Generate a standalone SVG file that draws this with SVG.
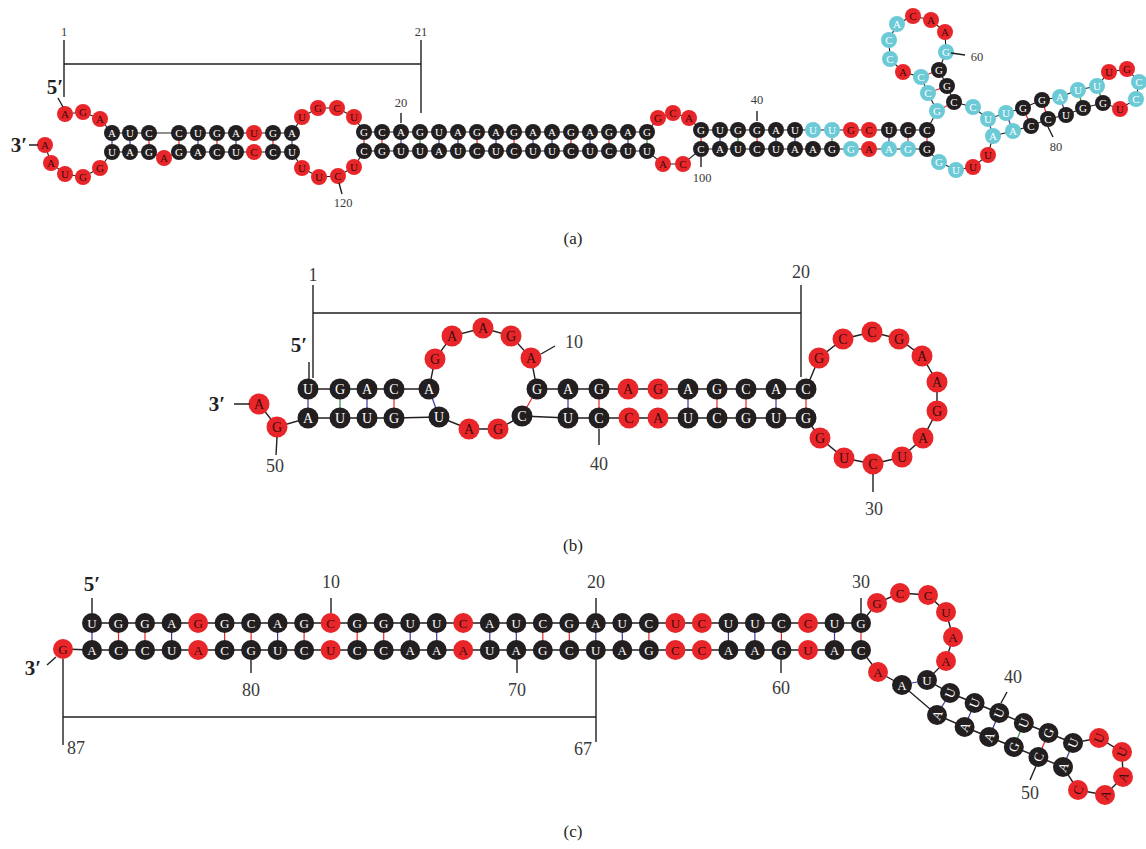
<svg xmlns="http://www.w3.org/2000/svg" width="1146" height="849" viewBox="0 0 1146 849">
<style>
.bg{fill:#fff}
.k circle{fill:#231f20}.k text{fill:#fff}
.r circle{fill:#e8262a}.r text{fill:#3a0c0c}
.c circle{fill:#6ccad7}.c text{fill:#fff}
.k text,.r text,.c text{font-family:"Liberation Serif",serif;text-anchor:middle;dominant-baseline:central}
#pa .k text,#pa .r text,#pa .c text{font-size:11px}
#pb .k text,#pb .r text,#pb .c text{font-size:14px}
#pc .k text,#pc .r text,#pc .c text{font-size:13px}
.bb{fill:none;stroke:#231f20;stroke-width:1.1}
.bb2{fill:none;stroke:#231f20;stroke-width:1.4}
.pr{stroke:#e8262a;stroke-width:1.2}
.pu{stroke:#3b3b9e;stroke-width:1.2}
.pg{stroke:#2f8a3c;stroke-width:1.2}
.ln{fill:none;stroke:#231f20;stroke-width:1.4}
.lb{font-family:"Liberation Serif",serif;fill:#3a3a3a;text-anchor:middle;dominant-baseline:central}
.s12{font-size:12.5px}.s18{font-size:18px}
.end{font-family:"Liberation Serif",serif;font-weight:bold;fill:#231f20;font-size:21px;text-anchor:middle;dominant-baseline:central}
.cap{font-family:"Liberation Serif",serif;fill:#231f20;font-size:17px;text-anchor:middle;dominant-baseline:central}
</style>
<rect class="bg" x="0" y="0" width="1146" height="849"/>

<g id="connectors">
<!-- panel a backbone -->
<polyline class="bb" points="65,114 83,112 100,119 112,133 130,133 149,133 179,133 198,133 217,133 236,133 254,133 273,133 292,133 302,117 318,108 337,108 354,117 364,132 382,132 401,132 420,132 439,132 458,132 477,132 496,132 514,132 533,132 552,132 571,132 590,132 609,132 628,132 647,132 658,118 673,113 689,118 701,130 720,130 738,130 757,130 776,130 795,130 813,130 832,130 851,130 869,130 889,130 908,130 927,130 937,111 928,93 921,77 903,72 890,59 889,40 897,24 913,16 931,20 945,32 946,52 939,70 947,86 954,102 973,107 988,119 1006,113 1023,108 1042,100 1060,97 1078,90 1097,86 1109,72 1127,69 1139,82 1136,99 1120,109 1103,103 1083,108 1066,115 1048,119 1031,126 1013,131 993,136 988,155 973,167 956,170 939,162 927,149 908,149 889,149 869,149 851,149 832,149 813,149 795,149 776,149 757,149 738,149 720,149 701,149 683,164 663,164 647,151 628,151 609,151 590,151 571,151 552,151 533,151 514,151 496,151 477,151 458,151 439,151 420,151 401,151 382,151 364,151 354,167 338,176 319,177 302,168 292,152 273,152 254,152 236,152 217,152 198,152 179,152 164,158 149,152 130,152 112,152 100,168 83,177 65,174 51,163 45,145"/>
<!-- panel a pairs -->
<g class="pu"><line x1="112" y1="133" x2="112" y2="152"/><line x1="130" y1="133" x2="130" y2="152"/><line x1="198" y1="133" x2="198" y2="152"/><line x1="236" y1="133" x2="236" y2="152"/><line x1="292" y1="133" x2="292" y2="152"/><line x1="401" y1="132" x2="401" y2="151"/><line x1="439" y1="132" x2="439" y2="151"/><line x1="458" y1="132" x2="458" y2="151"/><line x1="496" y1="132" x2="496" y2="151"/><line x1="533" y1="132" x2="533" y2="151"/><line x1="552" y1="132" x2="552" y2="151"/><line x1="590" y1="132" x2="590" y2="151"/><line x1="628" y1="132" x2="628" y2="151"/><line x1="720" y1="130" x2="720" y2="149"/><line x1="776" y1="130" x2="776" y2="149"/><line x1="795" y1="130" x2="795" y2="149"/><line x1="889" y1="130" x2="889" y2="149"/><line x1="988" y1="119" x2="993" y2="136"/><line x1="1006" y1="113" x2="1013" y2="131"/><line x1="1060" y1="97" x2="1066" y2="115"/></g>
<g class="pr"><line x1="149" y1="133" x2="149" y2="152"/><line x1="179" y1="133" x2="179" y2="152"/><line x1="217" y1="133" x2="217" y2="152"/><line x1="273" y1="133" x2="273" y2="152"/><line x1="364" y1="132" x2="364" y2="151"/><line x1="382" y1="132" x2="382" y2="151"/><line x1="477" y1="132" x2="477" y2="151"/><line x1="514" y1="132" x2="514" y2="151"/><line x1="571" y1="132" x2="571" y2="151"/><line x1="609" y1="132" x2="609" y2="151"/><line x1="701" y1="130" x2="701" y2="149"/><line x1="757" y1="130" x2="757" y2="149"/><line x1="908" y1="130" x2="908" y2="149"/><line x1="927" y1="130" x2="927" y2="149"/><line x1="937" y1="111" x2="954" y2="102"/><line x1="928" y1="93" x2="947" y2="86"/><line x1="921" y1="77" x2="939" y2="70"/><line x1="1023" y1="108" x2="1031" y2="126"/><line x1="1042" y1="100" x2="1048" y2="119"/></g>
<g class="pg"><line x1="420" y1="132" x2="420" y2="151"/><line x1="647" y1="132" x2="647" y2="151"/><line x1="738" y1="130" x2="738" y2="149"/><line x1="832" y1="130" x2="832" y2="149"/><line x1="1078" y1="90" x2="1083" y2="108"/><line x1="1097" y1="86" x2="1103" y2="103"/></g>

<!-- panel b backbone -->
<polyline class="bb2" points="308,389 340,389 367,389 394,389 429,389 435,359 452,336 483,328 511,336 531,358 537,389 568,389 599,389 628,389 658,389 688,389 717,389 746,389 776,389 806,389 819,358 843,339 872,332 899,339 922,356 937,382 937,411 923,438 902,457 873,464 844,458 820,438 806,418 776,418 746,418 717,418 688,418 658,418 629,418 599,418 568,418 522,416 498,429 469,429 439,417 394,418 367,418 340,418 308,418 277,427 259,404"/>
<g class="pu"><line x1="308" y1="389" x2="308" y2="418"/><line x1="367" y1="389" x2="367" y2="418"/><line x1="429" y1="389" x2="439" y2="417"/><line x1="568" y1="389" x2="568" y2="418"/><line x1="688" y1="389" x2="688" y2="418"/><line x1="776" y1="389" x2="776" y2="418"/></g>
<g class="pg"><line x1="340" y1="389" x2="340" y2="418"/></g>
<g class="pr"><line x1="394" y1="389" x2="394" y2="418"/><line x1="537" y1="389" x2="522" y2="416"/><line x1="599" y1="389" x2="599" y2="418"/><line x1="717" y1="389" x2="717" y2="418"/><line x1="746" y1="389" x2="746" y2="418"/><line x1="806" y1="389" x2="806" y2="418"/></g>

<!-- panel c backbone -->
<polyline class="bb2" points="92,623 118.5,623 145,623 171.6,623 198.1,623 224.6,623 251.1,623 277.6,623 304.1,623 330.7,623 357.2,623 383.7,623 410.2,623 436.7,623 463.2,623 489.8,623 516.3,623 542.8,623 569.3,623 595.8,623 622.3,623 648.9,623 675.4,623 701.9,623 728.4,623 754.9,623 781.4,623 808,623 834.5,623 861,623 877,603 900,593 928,595 946,612 953,637 946,661 927,680 950,693 974.6,703 999.2,713 1023.8,723 1048.4,733 1073,743 1099,738 1122,752 1123,777 1105,795 1078,790 1063,767 1038.4,757 1013.8,747 989.2,737 964.6,727 937,715 902,685 878,672 861,650 834.5,650 808,650 781.4,650 754.9,650 728.4,650 701.9,650 675.4,650 648.9,650 622.3,650 595.8,650 569.3,650 542.8,650 516.3,650 489.8,650 463.2,650 436.7,650 410.2,650 383.7,650 357.2,650 330.7,650 304.1,650 277.6,650 251.1,650 224.6,650 198.1,650 171.6,650 145,650 118.5,650 92,650 63,649"/>
<g class="pu"><line x1="92" y1="623" x2="92" y2="650"/><line x1="171.6" y1="623" x2="171.6" y2="650"/><line x1="277.6" y1="623" x2="277.6" y2="650"/><line x1="410.2" y1="623" x2="410.2" y2="650"/><line x1="436.7" y1="623" x2="436.7" y2="650"/><line x1="489.8" y1="623" x2="489.8" y2="650"/><line x1="516.3" y1="623" x2="516.3" y2="650"/><line x1="595.8" y1="623" x2="595.8" y2="650"/><line x1="622.3" y1="623" x2="622.3" y2="650"/><line x1="728.4" y1="623" x2="728.4" y2="650"/><line x1="754.9" y1="623" x2="754.9" y2="650"/><line x1="834.5" y1="623" x2="834.5" y2="650"/><line x1="927" y1="680" x2="902" y2="685"/><line x1="950" y1="693" x2="937" y2="715"/><line x1="974.6" y1="703" x2="964.6" y2="727"/><line x1="999.2" y1="713" x2="989.2" y2="737"/><line x1="1073" y1="743" x2="1063" y2="767"/></g>
<g class="pr"><line x1="118.5" y1="623" x2="118.5" y2="650"/><line x1="145" y1="623" x2="145" y2="650"/><line x1="224.6" y1="623" x2="224.6" y2="650"/><line x1="251.1" y1="623" x2="251.1" y2="650"/><line x1="304.1" y1="623" x2="304.1" y2="650"/><line x1="357.2" y1="623" x2="357.2" y2="650"/><line x1="383.7" y1="623" x2="383.7" y2="650"/><line x1="542.8" y1="623" x2="542.8" y2="650"/><line x1="569.3" y1="623" x2="569.3" y2="650"/><line x1="648.9" y1="623" x2="648.9" y2="650"/><line x1="781.4" y1="623" x2="781.4" y2="650"/><line x1="861" y1="623" x2="861" y2="650"/><line x1="1048.4" y1="733" x2="1038.4" y2="757"/></g>
<g class="pg"><line x1="1023.8" y1="723" x2="1013.8" y2="747"/></g>
</g>

<g id="pa">
<g id="a1" class="r" transform="translate(65,114)"><circle r="8"/><text>A</text></g>
<g id="a2" class="r" transform="translate(83,112)"><circle r="8"/><text>G</text></g>
<g id="a3" class="r" transform="translate(100,119)"><circle r="8"/><text>A</text></g>
<g id="a4" class="k" transform="translate(112,133)"><circle r="8"/><text>A</text></g>
<g id="a5" class="k" transform="translate(130,133)"><circle r="8"/><text>U</text></g>
<g id="a6" class="k" transform="translate(149,133)"><circle r="8"/><text>C</text></g>
<g id="a7" class="k" transform="translate(179,133)"><circle r="8"/><text>C</text></g>
<g id="a8" class="k" transform="translate(198,133)"><circle r="8"/><text>U</text></g>
<g id="a9" class="k" transform="translate(217,133)"><circle r="8"/><text>G</text></g>
<g id="a10" class="k" transform="translate(236,133)"><circle r="8"/><text>A</text></g>
<g id="a11" class="r" transform="translate(254,133)"><circle r="8"/><text>U</text></g>
<g id="a12" class="k" transform="translate(273,133)"><circle r="8"/><text>G</text></g>
<g id="a13" class="k" transform="translate(292,133)"><circle r="8"/><text>A</text></g>
<g id="a14" class="r" transform="translate(302,117)"><circle r="8"/><text>U</text></g>
<g id="a15" class="r" transform="translate(318,108)"><circle r="8"/><text>G</text></g>
<g id="a16" class="r" transform="translate(337,108)"><circle r="8"/><text>C</text></g>
<g id="a17" class="r" transform="translate(354,117)"><circle r="8"/><text>U</text></g>
<g id="a18" class="k" transform="translate(364,132)"><circle r="8"/><text>G</text></g>
<g id="a19" class="k" transform="translate(382,132)"><circle r="8"/><text>C</text></g>
<g id="a20" class="k" transform="translate(401,132)"><circle r="8"/><text>A</text></g>
<g id="a21" class="k" transform="translate(420,132)"><circle r="8"/><text>G</text></g>
<g id="a22" class="k" transform="translate(439,132)"><circle r="8"/><text>U</text></g>
<g id="a23" class="k" transform="translate(458,132)"><circle r="8"/><text>A</text></g>
<g id="a24" class="k" transform="translate(477,132)"><circle r="8"/><text>G</text></g>
<g id="a25" class="k" transform="translate(496,132)"><circle r="8"/><text>A</text></g>
<g id="a26" class="k" transform="translate(514,132)"><circle r="8"/><text>G</text></g>
<g id="a27" class="k" transform="translate(533,132)"><circle r="8"/><text>A</text></g>
<g id="a28" class="k" transform="translate(552,132)"><circle r="8"/><text>A</text></g>
<g id="a29" class="k" transform="translate(571,132)"><circle r="8"/><text>G</text></g>
<g id="a30" class="k" transform="translate(590,132)"><circle r="8"/><text>A</text></g>
<g id="a31" class="k" transform="translate(609,132)"><circle r="8"/><text>G</text></g>
<g id="a32" class="k" transform="translate(628,132)"><circle r="8"/><text>A</text></g>
<g id="a33" class="k" transform="translate(647,132)"><circle r="8"/><text>G</text></g>
<g id="a34" class="r" transform="translate(658,118)"><circle r="8"/><text>G</text></g>
<g id="a35" class="r" transform="translate(673,113)"><circle r="8"/><text>C</text></g>
<g id="a36" class="r" transform="translate(689,118)"><circle r="8"/><text>A</text></g>
<g id="a37" class="k" transform="translate(701,130)"><circle r="8"/><text>G</text></g>
<g id="a38" class="k" transform="translate(720,130)"><circle r="8"/><text>U</text></g>
<g id="a39" class="k" transform="translate(738,130)"><circle r="8"/><text>G</text></g>
<g id="a40" class="k" transform="translate(757,130)"><circle r="8"/><text>G</text></g>
<g id="a41" class="k" transform="translate(776,130)"><circle r="8"/><text>A</text></g>
<g id="a42" class="k" transform="translate(795,130)"><circle r="8"/><text>U</text></g>
<g id="a43" class="c" transform="translate(813,130)"><circle r="8"/><text>U</text></g>
<g id="a44" class="c" transform="translate(832,130)"><circle r="8"/><text>U</text></g>
<g id="a45" class="r" transform="translate(851,130)"><circle r="8"/><text>G</text></g>
<g id="a46" class="r" transform="translate(869,130)"><circle r="8"/><text>C</text></g>
<g id="a47" class="k" transform="translate(889,130)"><circle r="8"/><text>U</text></g>
<g id="a48" class="k" transform="translate(908,130)"><circle r="8"/><text>C</text></g>
<g id="a49" class="k" transform="translate(927,130)"><circle r="8"/><text>C</text></g>
<g id="a50" class="c" transform="translate(937,111)"><circle r="8"/><text>G</text></g>
<g id="a51" class="c" transform="translate(928,93)"><circle r="8"/><text>C</text></g>
<g id="a52" class="c" transform="translate(921,77)"><circle r="8"/><text>C</text></g>
<g id="a53" class="r" transform="translate(903,72)"><circle r="8"/><text>A</text></g>
<g id="a54" class="c" transform="translate(890,59)"><circle r="8"/><text>C</text></g>
<g id="a55" class="c" transform="translate(889,40)"><circle r="8"/><text>C</text></g>
<g id="a56" class="c" transform="translate(897,24)"><circle r="8"/><text>A</text></g>
<g id="a57" class="r" transform="translate(913,16)"><circle r="8"/><text>C</text></g>
<g id="a58" class="r" transform="translate(931,20)"><circle r="8"/><text>A</text></g>
<g id="a59" class="r" transform="translate(945,32)"><circle r="8"/><text>A</text></g>
<g id="a60" class="c" transform="translate(946,52)"><circle r="8"/><text>G</text></g>
<g id="a61" class="k" transform="translate(939,70)"><circle r="8"/><text>G</text></g>
<g id="a62" class="k" transform="translate(947,86)"><circle r="8"/><text>G</text></g>
<g id="a63" class="k" transform="translate(954,102)"><circle r="8"/><text>C</text></g>
<g id="a64" class="c" transform="translate(973,107)"><circle r="8"/><text>C</text></g>
<g id="a65" class="c" transform="translate(988,119)"><circle r="8"/><text>U</text></g>
<g id="a66" class="c" transform="translate(1006,113)"><circle r="8"/><text>U</text></g>
<g id="a67" class="k" transform="translate(1023,108)"><circle r="8"/><text>G</text></g>
<g id="a68" class="k" transform="translate(1042,100)"><circle r="8"/><text>G</text></g>
<g id="a69" class="c" transform="translate(1060,97)"><circle r="8"/><text>A</text></g>
<g id="a70" class="c" transform="translate(1078,90)"><circle r="8"/><text>U</text></g>
<g id="a71" class="c" transform="translate(1097,86)"><circle r="8"/><text>U</text></g>
<g id="a72" class="r" transform="translate(1109,72)"><circle r="8"/><text>U</text></g>
<g id="a73" class="r" transform="translate(1127,69)"><circle r="8"/><text>G</text></g>
<g id="a74" class="c" transform="translate(1139,82)"><circle r="8"/><text>C</text></g>
<g id="a75" class="c" transform="translate(1136,99)"><circle r="8"/><text>C</text></g>
<g id="a76" class="r" transform="translate(1120,109)"><circle r="8"/><text>U</text></g>
<g id="a77" class="k" transform="translate(1103,103)"><circle r="8"/><text>G</text></g>
<g id="a78" class="k" transform="translate(1083,108)"><circle r="8"/><text>G</text></g>
<g id="a79" class="k" transform="translate(1066,115)"><circle r="8"/><text>U</text></g>
<g id="a80" class="k" transform="translate(1048,119)"><circle r="8"/><text>C</text></g>
<g id="a81" class="k" transform="translate(1031,126)"><circle r="8"/><text>C</text></g>
<g id="a82" class="c" transform="translate(1013,131)"><circle r="8"/><text>A</text></g>
<g id="a83" class="c" transform="translate(993,136)"><circle r="8"/><text>A</text></g>
<g id="a84" class="r" transform="translate(988,155)"><circle r="8"/><text>U</text></g>
<g id="a85" class="r" transform="translate(973,167)"><circle r="8"/><text>U</text></g>
<g id="a86" class="c" transform="translate(956,170)"><circle r="8"/><text>U</text></g>
<g id="a87" class="c" transform="translate(939,162)"><circle r="8"/><text>G</text></g>
<g id="a88" class="k" transform="translate(927,149)"><circle r="8"/><text>G</text></g>
<g id="a89" class="c" transform="translate(908,149)"><circle r="8"/><text>G</text></g>
<g id="a90" class="c" transform="translate(889,149)"><circle r="8"/><text>A</text></g>
<g id="a91" class="r" transform="translate(869,149)"><circle r="8"/><text>A</text></g>
<g id="a92" class="c" transform="translate(851,149)"><circle r="8"/><text>G</text></g>
<g id="a93" class="k" transform="translate(832,149)"><circle r="8"/><text>G</text></g>
<g id="a94" class="k" transform="translate(813,149)"><circle r="8"/><text>A</text></g>
<g id="a95" class="k" transform="translate(795,149)"><circle r="8"/><text>A</text></g>
<g id="a96" class="k" transform="translate(776,149)"><circle r="8"/><text>U</text></g>
<g id="a97" class="k" transform="translate(757,149)"><circle r="8"/><text>C</text></g>
<g id="a98" class="k" transform="translate(738,149)"><circle r="8"/><text>U</text></g>
<g id="a99" class="k" transform="translate(720,149)"><circle r="8"/><text>A</text></g>
<g id="a100" class="k" transform="translate(701,149)"><circle r="8"/><text>C</text></g>
<g id="a101" class="r" transform="translate(683,164)"><circle r="8"/><text>C</text></g>
<g id="a102" class="r" transform="translate(663,164)"><circle r="8"/><text>A</text></g>
<g id="a103" class="k" transform="translate(647,151)"><circle r="8"/><text>U</text></g>
<g id="a104" class="k" transform="translate(628,151)"><circle r="8"/><text>U</text></g>
<g id="a105" class="k" transform="translate(609,151)"><circle r="8"/><text>C</text></g>
<g id="a106" class="k" transform="translate(590,151)"><circle r="8"/><text>U</text></g>
<g id="a107" class="k" transform="translate(571,151)"><circle r="8"/><text>C</text></g>
<g id="a108" class="k" transform="translate(552,151)"><circle r="8"/><text>U</text></g>
<g id="a109" class="k" transform="translate(533,151)"><circle r="8"/><text>U</text></g>
<g id="a110" class="k" transform="translate(514,151)"><circle r="8"/><text>C</text></g>
<g id="a111" class="k" transform="translate(496,151)"><circle r="8"/><text>U</text></g>
<g id="a112" class="k" transform="translate(477,151)"><circle r="8"/><text>C</text></g>
<g id="a113" class="k" transform="translate(458,151)"><circle r="8"/><text>U</text></g>
<g id="a114" class="k" transform="translate(439,151)"><circle r="8"/><text>A</text></g>
<g id="a115" class="k" transform="translate(420,151)"><circle r="8"/><text>U</text></g>
<g id="a116" class="k" transform="translate(401,151)"><circle r="8"/><text>U</text></g>
<g id="a117" class="k" transform="translate(382,151)"><circle r="8"/><text>G</text></g>
<g id="a118" class="k" transform="translate(364,151)"><circle r="8"/><text>C</text></g>
<g id="a119" class="r" transform="translate(354,167)"><circle r="8"/><text>U</text></g>
<g id="a120" class="r" transform="translate(338,176)"><circle r="8"/><text>C</text></g>
<g id="a121" class="r" transform="translate(319,177)"><circle r="8"/><text>U</text></g>
<g id="a122" class="r" transform="translate(302,168)"><circle r="8"/><text>U</text></g>
<g id="a123" class="k" transform="translate(292,152)"><circle r="8"/><text>U</text></g>
<g id="a124" class="k" transform="translate(273,152)"><circle r="8"/><text>C</text></g>
<g id="a125" class="r" transform="translate(254,152)"><circle r="8"/><text>C</text></g>
<g id="a126" class="k" transform="translate(236,152)"><circle r="8"/><text>U</text></g>
<g id="a127" class="k" transform="translate(217,152)"><circle r="8"/><text>C</text></g>
<g id="a128" class="k" transform="translate(198,152)"><circle r="8"/><text>A</text></g>
<g id="a129" class="k" transform="translate(179,152)"><circle r="8"/><text>G</text></g>
<g id="a130" class="r" transform="translate(164,158)"><circle r="8"/><text>A</text></g>
<g id="a131" class="k" transform="translate(149,152)"><circle r="8"/><text>G</text></g>
<g id="a132" class="k" transform="translate(130,152)"><circle r="8"/><text>A</text></g>
<g id="a133" class="k" transform="translate(112,152)"><circle r="8"/><text>U</text></g>
<g id="a134" class="r" transform="translate(100,168)"><circle r="8"/><text>G</text></g>
<g id="a135" class="r" transform="translate(83,177)"><circle r="8"/><text>G</text></g>
<g id="a136" class="r" transform="translate(65,174)"><circle r="8"/><text>U</text></g>
<g id="a137" class="r" transform="translate(51,163)"><circle r="8"/><text>A</text></g>
<g id="a138" class="r" transform="translate(45,145)"><circle r="8"/><text>A</text></g>
</g>

<g id="pb">
<g id="b1" class="k" transform="translate(308,389)"><circle r="10.5"/><text>U</text></g>
<g id="b2" class="k" transform="translate(340,389)"><circle r="10.5"/><text>G</text></g>
<g id="b3" class="k" transform="translate(367,389)"><circle r="10.5"/><text>A</text></g>
<g id="b4" class="k" transform="translate(394,389)"><circle r="10.5"/><text>C</text></g>
<g id="b5" class="k" transform="translate(429,389)"><circle r="10.5"/><text>A</text></g>
<g id="b6" class="r" transform="translate(435,359)"><circle r="10.5"/><text>G</text></g>
<g id="b7" class="r" transform="translate(452,336)"><circle r="10.5"/><text>A</text></g>
<g id="b8" class="r" transform="translate(483,328)"><circle r="10.5"/><text>A</text></g>
<g id="b9" class="r" transform="translate(511,336)"><circle r="10.5"/><text>G</text></g>
<g id="b10" class="r" transform="translate(531,358)"><circle r="10.5"/><text>A</text></g>
<g id="b11" class="k" transform="translate(537,389)"><circle r="10.5"/><text>G</text></g>
<g id="b12" class="k" transform="translate(568,389)"><circle r="10.5"/><text>A</text></g>
<g id="b13" class="k" transform="translate(599,389)"><circle r="10.5"/><text>G</text></g>
<g id="b14" class="r" transform="translate(628,389)"><circle r="10.5"/><text>A</text></g>
<g id="b15" class="r" transform="translate(658,389)"><circle r="10.5"/><text>G</text></g>
<g id="b16" class="k" transform="translate(688,389)"><circle r="10.5"/><text>A</text></g>
<g id="b17" class="k" transform="translate(717,389)"><circle r="10.5"/><text>G</text></g>
<g id="b18" class="k" transform="translate(746,389)"><circle r="10.5"/><text>C</text></g>
<g id="b19" class="k" transform="translate(776,389)"><circle r="10.5"/><text>A</text></g>
<g id="b20" class="k" transform="translate(806,389)"><circle r="10.5"/><text>C</text></g>
<g id="b21" class="r" transform="translate(819,358)"><circle r="10.5"/><text>G</text></g>
<g id="b22" class="r" transform="translate(843,339)"><circle r="10.5"/><text>C</text></g>
<g id="b23" class="r" transform="translate(872,332)"><circle r="10.5"/><text>C</text></g>
<g id="b24" class="r" transform="translate(899,339)"><circle r="10.5"/><text>G</text></g>
<g id="b25" class="r" transform="translate(922,356)"><circle r="10.5"/><text>A</text></g>
<g id="b26" class="r" transform="translate(937,382)"><circle r="10.5"/><text>A</text></g>
<g id="b27" class="r" transform="translate(937,411)"><circle r="10.5"/><text>G</text></g>
<g id="b28" class="r" transform="translate(923,438)"><circle r="10.5"/><text>A</text></g>
<g id="b29" class="r" transform="translate(902,457)"><circle r="10.5"/><text>U</text></g>
<g id="b30" class="r" transform="translate(873,464)"><circle r="10.5"/><text>C</text></g>
<g id="b31" class="r" transform="translate(844,458)"><circle r="10.5"/><text>U</text></g>
<g id="b32" class="r" transform="translate(820,438)"><circle r="10.5"/><text>G</text></g>
<g id="b33" class="k" transform="translate(806,418)"><circle r="10.5"/><text>G</text></g>
<g id="b34" class="k" transform="translate(776,418)"><circle r="10.5"/><text>U</text></g>
<g id="b35" class="k" transform="translate(746,418)"><circle r="10.5"/><text>G</text></g>
<g id="b36" class="k" transform="translate(717,418)"><circle r="10.5"/><text>C</text></g>
<g id="b37" class="k" transform="translate(688,418)"><circle r="10.5"/><text>U</text></g>
<g id="b38" class="r" transform="translate(658,418)"><circle r="10.5"/><text>A</text></g>
<g id="b39" class="r" transform="translate(629,418)"><circle r="10.5"/><text>C</text></g>
<g id="b40" class="k" transform="translate(599,418)"><circle r="10.5"/><text>C</text></g>
<g id="b41" class="k" transform="translate(568,418)"><circle r="10.5"/><text>U</text></g>
<g id="b42" class="k" transform="translate(522,416)"><circle r="10.5"/><text>C</text></g>
<g id="b43" class="r" transform="translate(498,429)"><circle r="10.5"/><text>G</text></g>
<g id="b44" class="r" transform="translate(469,429)"><circle r="10.5"/><text>A</text></g>
<g id="b45" class="k" transform="translate(439,417)"><circle r="10.5"/><text>U</text></g>
<g id="b46" class="k" transform="translate(394,418)"><circle r="10.5"/><text>G</text></g>
<g id="b47" class="k" transform="translate(367,418)"><circle r="10.5"/><text>U</text></g>
<g id="b48" class="k" transform="translate(340,418)"><circle r="10.5"/><text>U</text></g>
<g id="b49" class="k" transform="translate(308,418)"><circle r="10.5"/><text>A</text></g>
<g id="b50" class="r" transform="translate(277,427)"><circle r="10.5"/><text>G</text></g>
<g id="b51" class="r" transform="translate(259,404)"><circle r="10.5"/><text>A</text></g>
</g>

<g id="pc">
<g id="c1" class="k" transform="translate(92,623)"><circle r="10"/><text>U</text></g>
<g id="c2" class="k" transform="translate(118.5,623)"><circle r="10"/><text>G</text></g>
<g id="c3" class="k" transform="translate(145,623)"><circle r="10"/><text>G</text></g>
<g id="c4" class="k" transform="translate(171.6,623)"><circle r="10"/><text>A</text></g>
<g id="c5" class="r" transform="translate(198.1,623)"><circle r="10"/><text>G</text></g>
<g id="c6" class="k" transform="translate(224.6,623)"><circle r="10"/><text>G</text></g>
<g id="c7" class="k" transform="translate(251.1,623)"><circle r="10"/><text>C</text></g>
<g id="c8" class="k" transform="translate(277.6,623)"><circle r="10"/><text>A</text></g>
<g id="c9" class="k" transform="translate(304.1,623)"><circle r="10"/><text>G</text></g>
<g id="c10" class="r" transform="translate(330.7,623)"><circle r="10"/><text>C</text></g>
<g id="c11" class="k" transform="translate(357.2,623)"><circle r="10"/><text>G</text></g>
<g id="c12" class="k" transform="translate(383.7,623)"><circle r="10"/><text>G</text></g>
<g id="c13" class="k" transform="translate(410.2,623)"><circle r="10"/><text>U</text></g>
<g id="c14" class="k" transform="translate(436.7,623)"><circle r="10"/><text>U</text></g>
<g id="c15" class="r" transform="translate(463.2,623)"><circle r="10"/><text>C</text></g>
<g id="c16" class="k" transform="translate(489.8,623)"><circle r="10"/><text>A</text></g>
<g id="c17" class="k" transform="translate(516.3,623)"><circle r="10"/><text>U</text></g>
<g id="c18" class="k" transform="translate(542.8,623)"><circle r="10"/><text>C</text></g>
<g id="c19" class="k" transform="translate(569.3,623)"><circle r="10"/><text>G</text></g>
<g id="c20" class="k" transform="translate(595.8,623)"><circle r="10"/><text>A</text></g>
<g id="c21" class="k" transform="translate(622.3,623)"><circle r="10"/><text>U</text></g>
<g id="c22" class="k" transform="translate(648.9,623)"><circle r="10"/><text>C</text></g>
<g id="c23" class="r" transform="translate(675.4,623)"><circle r="10"/><text>U</text></g>
<g id="c24" class="r" transform="translate(701.9,623)"><circle r="10"/><text>C</text></g>
<g id="c25" class="k" transform="translate(728.4,623)"><circle r="10"/><text>U</text></g>
<g id="c26" class="k" transform="translate(754.9,623)"><circle r="10"/><text>U</text></g>
<g id="c27" class="k" transform="translate(781.4,623)"><circle r="10"/><text>C</text></g>
<g id="c28" class="r" transform="translate(808,623)"><circle r="10"/><text>C</text></g>
<g id="c29" class="k" transform="translate(834.5,623)"><circle r="10"/><text>U</text></g>
<g id="c30" class="k" transform="translate(861,623)"><circle r="10"/><text>G</text></g>
<g id="c31" class="r" transform="translate(877,603)"><circle r="10"/><text>G</text></g>
<g id="c32" class="r" transform="translate(900,593)"><circle r="10"/><text>C</text></g>
<g id="c33" class="r" transform="translate(928,595)"><circle r="10"/><text>C</text></g>
<g id="c34" class="r" transform="translate(946,612)"><circle r="10"/><text>U</text></g>
<g id="c35" class="r" transform="translate(953,637)"><circle r="10"/><text>A</text></g>
<g id="c36" class="r" transform="translate(946,661)"><circle r="10"/><text>A</text></g>
<g id="c37" class="k" transform="translate(927,680)"><circle r="10"/><text>U</text></g>
<g id="c38" class="k" transform="translate(950,693)"><circle r="10"/><text transform="rotate(-68)">U</text></g>
<g id="c39" class="k" transform="translate(974.6,703)"><circle r="10"/><text transform="rotate(-68)">U</text></g>
<g id="c40" class="k" transform="translate(999.2,713)"><circle r="10"/><text transform="rotate(-68)">U</text></g>
<g id="c41" class="k" transform="translate(1023.8,723)"><circle r="10"/><text transform="rotate(-68)">U</text></g>
<g id="c42" class="k" transform="translate(1048.4,733)"><circle r="10"/><text transform="rotate(-68)">G</text></g>
<g id="c43" class="k" transform="translate(1073,743)"><circle r="10"/><text transform="rotate(-68)">U</text></g>
<g id="c44" class="r" transform="translate(1099,738)"><circle r="10"/><text transform="rotate(-68)">U</text></g>
<g id="c45" class="r" transform="translate(1122,752)"><circle r="10"/><text transform="rotate(-68)">U</text></g>
<g id="c46" class="r" transform="translate(1123,777)"><circle r="10"/><text transform="rotate(-68)">A</text></g>
<g id="c47" class="r" transform="translate(1105,795)"><circle r="10"/><text transform="rotate(-68)">A</text></g>
<g id="c48" class="r" transform="translate(1078,790)"><circle r="10"/><text transform="rotate(-68)">C</text></g>
<g id="c49" class="k" transform="translate(1063,767)"><circle r="10"/><text transform="rotate(-68)">A</text></g>
<g id="c50" class="k" transform="translate(1038.4,757)"><circle r="10"/><text transform="rotate(-68)">C</text></g>
<g id="c51" class="k" transform="translate(1013.8,747)"><circle r="10"/><text transform="rotate(-68)">G</text></g>
<g id="c52" class="k" transform="translate(989.2,737)"><circle r="10"/><text transform="rotate(-68)">A</text></g>
<g id="c53" class="k" transform="translate(964.6,727)"><circle r="10"/><text transform="rotate(-68)">A</text></g>
<g id="c54" class="k" transform="translate(937,715)"><circle r="10"/><text transform="rotate(-68)">A</text></g>
<g id="c55" class="k" transform="translate(902,685)"><circle r="10"/><text>A</text></g>
<g id="c56" class="r" transform="translate(878,672)"><circle r="10"/><text>A</text></g>
<g id="c57" class="k" transform="translate(861,650)"><circle r="10"/><text>C</text></g>
<g id="c58" class="k" transform="translate(834.5,650)"><circle r="10"/><text>A</text></g>
<g id="c59" class="r" transform="translate(808,650)"><circle r="10"/><text>U</text></g>
<g id="c60" class="k" transform="translate(781.4,650)"><circle r="10"/><text>G</text></g>
<g id="c61" class="k" transform="translate(754.9,650)"><circle r="10"/><text>A</text></g>
<g id="c62" class="k" transform="translate(728.4,650)"><circle r="10"/><text>A</text></g>
<g id="c63" class="r" transform="translate(701.9,650)"><circle r="10"/><text>C</text></g>
<g id="c64" class="r" transform="translate(675.4,650)"><circle r="10"/><text>C</text></g>
<g id="c65" class="k" transform="translate(648.9,650)"><circle r="10"/><text>G</text></g>
<g id="c66" class="k" transform="translate(622.3,650)"><circle r="10"/><text>A</text></g>
<g id="c67" class="k" transform="translate(595.8,650)"><circle r="10"/><text>U</text></g>
<g id="c68" class="k" transform="translate(569.3,650)"><circle r="10"/><text>C</text></g>
<g id="c69" class="k" transform="translate(542.8,650)"><circle r="10"/><text>G</text></g>
<g id="c70" class="k" transform="translate(516.3,650)"><circle r="10"/><text>A</text></g>
<g id="c71" class="k" transform="translate(489.8,650)"><circle r="10"/><text>U</text></g>
<g id="c72" class="r" transform="translate(463.2,650)"><circle r="10"/><text>A</text></g>
<g id="c73" class="k" transform="translate(436.7,650)"><circle r="10"/><text>A</text></g>
<g id="c74" class="k" transform="translate(410.2,650)"><circle r="10"/><text>A</text></g>
<g id="c75" class="k" transform="translate(383.7,650)"><circle r="10"/><text>C</text></g>
<g id="c76" class="k" transform="translate(357.2,650)"><circle r="10"/><text>C</text></g>
<g id="c77" class="r" transform="translate(330.7,650)"><circle r="10"/><text>U</text></g>
<g id="c78" class="k" transform="translate(304.1,650)"><circle r="10"/><text>C</text></g>
<g id="c79" class="k" transform="translate(277.6,650)"><circle r="10"/><text>U</text></g>
<g id="c80" class="k" transform="translate(251.1,650)"><circle r="10"/><text>G</text></g>
<g id="c81" class="k" transform="translate(224.6,650)"><circle r="10"/><text>C</text></g>
<g id="c82" class="r" transform="translate(198.1,650)"><circle r="10"/><text>A</text></g>
<g id="c83" class="k" transform="translate(171.6,650)"><circle r="10"/><text>U</text></g>
<g id="c84" class="k" transform="translate(145,650)"><circle r="10"/><text>C</text></g>
<g id="c85" class="k" transform="translate(118.5,650)"><circle r="10"/><text>C</text></g>
<g id="c86" class="k" transform="translate(92,650)"><circle r="10"/><text>A</text></g>
<g id="c87" class="r" transform="translate(63,649)"><circle r="10"/><text>G</text></g>
</g>

<g id="labels">
<!-- panel a -->
<path class="ln" d="M64,40 V97 M64,64 H421 M421,40 V113 M58,98 L63,107 M29,145 H38 M401,113 V123 M757,111 V121 M951,53 L965,55 M1048,127 L1053,137 M701,157 V167 M339,183 L342,194"/>
<text class="lb s12" x="64" y="32">1</text>
<text class="lb s12" x="421" y="32">21</text>
<text class="lb s12" x="401" y="103">20</text>
<text class="lb s12" x="757" y="100">40</text>
<text class="lb s12" x="977" y="57">60</text>
<text class="lb s12" x="1056" y="147">80</text>
<text class="lb s12" x="702" y="178">100</text>
<text class="lb s12" x="343" y="203">120</text>
<text class="end" x="55" y="87">5′</text>
<text class="end" x="19" y="145">3′</text>
<text class="cap" x="573" y="238">(a)</text>
<!-- panel b -->
<path class="ln" d="M313,285 V378 M313,313 H801 M801,285 V377 M309,362 V379 M234,404 H250 M541,354 L555,346 M599,429 V445 M277,437 L276,455 M873,474 V492"/>
<text class="lb s18" x="313" y="275">1</text>
<text class="lb s18" x="801" y="272">20</text>
<text class="lb s18" x="574" y="342">10</text>
<text class="lb s18" x="599" y="464">40</text>
<text class="lb s18" x="275" y="466">50</text>
<text class="lb s18" x="874" y="509">30</text>
<text class="end" x="299" y="345">5′</text>
<text class="end" x="217" y="404">3′</text>
<text class="cap" x="573" y="545">(b)</text>
<!-- panel c -->
<path class="ln" d="M92,598 V613 M331,598 V613 M596,598 V613 M861,598 V613 M251,660 V673 M517,660 V673 M781,660 V673 M63,659 V745 M63,717 H596 M596,660 V742 M47,665 L56,657 M1001,703 L1007,692 M1036,766 L1030,780"/>
<text class="end" x="92" y="584">5′</text>
<text class="lb s18" x="331" y="582">10</text>
<text class="lb s18" x="596" y="582">20</text>
<text class="lb s18" x="861" y="582">30</text>
<text class="lb s18" x="251" y="690">80</text>
<text class="lb s18" x="517" y="690">70</text>
<text class="lb s18" x="781" y="688">60</text>
<text class="lb s18" x="76" y="748">87</text>
<text class="lb s18" x="583" y="749">67</text>
<text class="lb s18" x="1013" y="677">40</text>
<text class="lb s18" x="1030" y="793">50</text>
<text class="end" x="33" y="668">3′</text>
<text class="cap" x="573" y="831">(c)</text>
</g>
</svg>
